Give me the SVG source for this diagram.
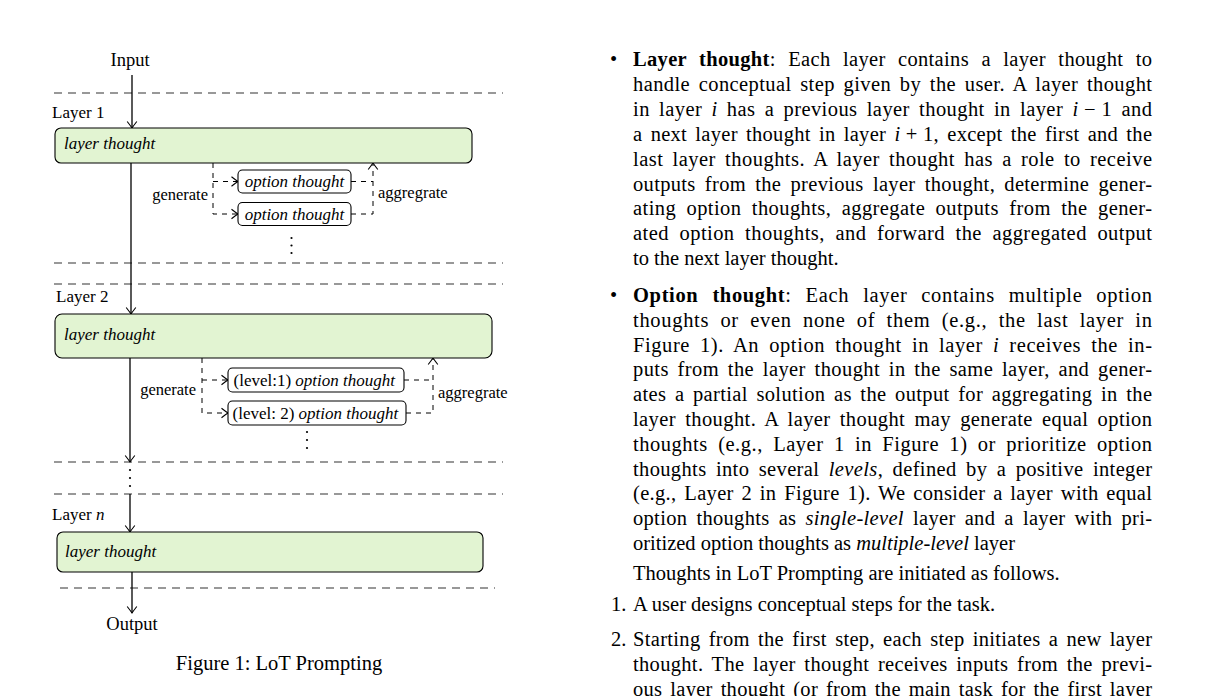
<svg xmlns="http://www.w3.org/2000/svg" width="1211" height="696" viewBox="0 0 1211 696">
<defs>
<marker id="arr" markerUnits="userSpaceOnUse" viewBox="-8 -6 10 12" refX="0" refY="0" markerWidth="10" markerHeight="12" orient="auto">
<path d="M-6.5,-4.8 Q-2,-1.3 0,0 Q-2,1.3 -6.5,4.8" fill="none" stroke="#000" stroke-width="1.1" stroke-dasharray="none"/>
</marker>
<style>
text{font-family:"Liberation Serif","Times New Roman",serif;fill:#000}
.it{font-style:italic}
.b{font-weight:bold}
.m{word-spacing:0}
.body{font-size:20.5px}
.lbl{font-size:17px}
.sm{font-size:16.5px}
.io{font-size:18.5px}
.box{fill:#e2f4d2;stroke:#000;stroke-width:1.1}
.opt{fill:#fff;stroke:#000;stroke-width:1.1}
.div{stroke:#333;stroke-width:1.2;stroke-dasharray:8 6;fill:none}
.solid{stroke:#000;stroke-width:1.3;fill:none}
.dash{stroke:#000;stroke-width:1;stroke-dasharray:5 5;fill:none}
.dot{fill:#000}
</style>
</defs>
<rect width="1211" height="696" fill="#fff"/>

<g id="dividers">
<line class="div" x1="54" y1="93" x2="503" y2="93"/>
<line class="div" x1="54" y1="263" x2="503" y2="263"/>
<line class="div" x1="54" y1="284" x2="503" y2="284"/>
<line class="div" x1="54" y1="462" x2="503" y2="462"/>
<line class="div" x1="54" y1="494" x2="503" y2="494"/>
<line class="div" x1="60" y1="588" x2="495" y2="588"/>
</g>

<g id="connectors">
<path class="solid" d="M132,75 V128" marker-end="url(#arr)"/>
<path class="solid" d="M131,163 V314" marker-end="url(#arr)"/>
<path class="solid" d="M130,358 V462" marker-end="url(#arr)"/>
<path class="solid" d="M130,494 V532" marker-end="url(#arr)"/>
<path class="solid" d="M132,572 V613" marker-end="url(#arr)"/>
<path class="dash" d="M213,163 V214 H238" marker-end="url(#arr)"/>
<path class="dash" d="M213,181.5 H238" marker-end="url(#arr)"/>
<path class="dash" d="M351,214 H373 V163" marker-end="url(#arr)"/>
<path class="dash" d="M351,181.5 H373"/>
<path class="dash" d="M202,358 V413 H228" marker-end="url(#arr)"/>
<path class="dash" d="M202,380 H228" marker-end="url(#arr)"/>
<path class="dash" d="M406,413 H433 V358" marker-end="url(#arr)"/>
<path class="dash" d="M404,380 H433"/>
</g>

<g id="input"><text class="io" x="130" y="66" text-anchor="middle">Input</text></g>

<g id="layer1">
<text class="lbl" x="52" y="118">Layer 1</text>
<rect class="box" x="55" y="128" width="417" height="35" rx="6"/>
<text class="lbl it" x="64" y="149">layer thought</text>
</g>
<g id="opt1a">
<rect class="opt" x="238" y="170" width="113" height="23" rx="4.5"/>
<text class="lbl it" x="294.5" y="187" text-anchor="middle">option thought</text>
</g>
<g id="opt1b">
<rect class="opt" x="238" y="202.5" width="113" height="23" rx="4.5"/>
<text class="lbl it" x="294.5" y="219.5" text-anchor="middle">option thought</text>
</g>
<g id="labels1">
<text class="sm" x="208" y="200" text-anchor="end">generate</text>
<text class="sm" x="378" y="198">aggregrate</text>
<circle class="dot" cx="291.5" cy="238" r="1.1"/>
<circle class="dot" cx="291.5" cy="245.5" r="1.1"/>
<circle class="dot" cx="291.5" cy="253" r="1.1"/>
</g>

<g id="layer2">
<text class="lbl" x="56" y="302">Layer 2</text>
<rect class="box" x="55" y="314" width="437" height="44" rx="7"/>
<text class="lbl it" x="64" y="340">layer thought</text>
</g>
<g id="opt2a">
<rect class="opt" x="228" y="368" width="176" height="24" rx="4.5"/>
<text class="lbl" x="233.5" y="386">(level:1) <tspan class="it">option thought</tspan></text>
</g>
<g id="opt2b">
<rect class="opt" x="228" y="401" width="178" height="24" rx="4.5"/>
<text class="lbl" x="232.5" y="419">(level: 2) <tspan class="it">option thought</tspan></text>
</g>
<g id="labels2">
<text class="sm" x="196" y="395" text-anchor="end">generate</text>
<text class="sm" x="438" y="398">aggregrate</text>
<circle class="dot" cx="307" cy="432" r="1.1"/>
<circle class="dot" cx="307" cy="440" r="1.1"/>
<circle class="dot" cx="307" cy="448" r="1.1"/>
<circle class="dot" cx="130" cy="470" r="1.1"/>
<circle class="dot" cx="130" cy="478" r="1.1"/>
<circle class="dot" cx="130" cy="486" r="1.1"/>
</g>

<g id="layern">
<text class="lbl" x="52" y="520">Layer <tspan class="it">n</tspan></text>
<rect class="box" x="57" y="532" width="426" height="40" rx="6"/>
<text class="lbl it" x="65" y="557">layer thought</text>
</g>

<g id="output"><text class="io" x="132" y="630" text-anchor="middle">Output</text></g>

<g id="caption"><text class="body" x="279" y="670" text-anchor="middle">Figure 1: LoT Prompting</text></g>

<g id="column">
<text class="body" x="610" y="66">•</text>
<text class="body" x="633" y="66" textLength="519" lengthAdjust="spacing" style="word-spacing:7px"><tspan class="b">Layer thought</tspan>: Each layer contains a layer thought to</text>
<text class="body" x="633" y="90.9" textLength="519" lengthAdjust="spacing" style="word-spacing:3.2px">handle conceptual step given by the user. A layer thought</text>
<text class="body" x="633" y="115.8" textLength="519" lengthAdjust="spacing" style="word-spacing:3.7px">in layer <tspan class="it">i</tspan> has a previous layer thought in layer <tspan class="it">i</tspan><tspan class="m"> − 1</tspan> and</text>
<text class="body" x="633" y="140.7" textLength="519" lengthAdjust="spacing" style="word-spacing:2.8px">a next layer thought in layer <tspan class="it">i</tspan><tspan class="m"> + 1</tspan>, except the first and the</text>
<text class="body" x="633" y="165.6" textLength="519" lengthAdjust="spacing" style="word-spacing:3.6px">last layer thoughts. A layer thought has a role to receive</text>
<text class="body" x="633" y="190.5" textLength="519" lengthAdjust="spacing" style="word-spacing:3.8px">outputs from the previous layer thought, determine gener-</text>
<text class="body" x="633" y="215.4" textLength="519" lengthAdjust="spacing" style="word-spacing:4.9px">ating option thoughts, aggregate outputs from the gener-</text>
<text class="body" x="633" y="240.3" textLength="519" lengthAdjust="spacing" style="word-spacing:5px">ated option thoughts, and forward the aggregated output</text>
<text class="body" x="633" y="265.2">to the next layer thought.</text>

<text class="body" x="610" y="302">•</text>
<text class="body" x="633" y="302" textLength="519" lengthAdjust="spacing" style="word-spacing:8.2px"><tspan class="b">Option thought</tspan>: Each layer contains multiple option</text>
<text class="body" x="633" y="326.8" textLength="519" lengthAdjust="spacing" style="word-spacing:5.5px">thoughts or even none of them (e.g., the last layer in</text>
<text class="body" x="633" y="351.6" textLength="519" lengthAdjust="spacing" style="word-spacing:4.4px">Figure 1). An option thought in layer <tspan class="it">i</tspan> receives the in-</text>
<text class="body" x="633" y="376.4" textLength="519" lengthAdjust="spacing" style="word-spacing:3.2px">puts from the layer thought in the same layer, and gener-</text>
<text class="body" x="633" y="401.2" textLength="519" lengthAdjust="spacing" style="word-spacing:3.1px">ates a partial solution as the output for aggregating in the</text>
<text class="body" x="633" y="426" textLength="519" lengthAdjust="spacing" style="word-spacing:3.7px">layer thought. A layer thought may generate equal option</text>
<text class="body" x="633" y="450.8" textLength="519" lengthAdjust="spacing" style="word-spacing:4.7px">thoughts (e.g., Layer 1 in Figure 1) or prioritize option</text>
<text class="body" x="633" y="475.6" textLength="519" lengthAdjust="spacing" style="word-spacing:4px">thoughts into several <tspan class="it">levels</tspan>, defined by a positive integer</text>
<text class="body" x="633" y="500.4" textLength="519" lengthAdjust="spacing" style="word-spacing:2.3px">(e.g., Layer 2 in Figure 1). We consider a layer with equal</text>
<text class="body" x="633" y="525.2" textLength="519" lengthAdjust="spacing" style="word-spacing:3.7px">option thoughts as <tspan class="it">single-level</tspan> layer and a layer with pri-</text>
<text class="body" x="633" y="550">oritized option thoughts as <tspan class="it">multiple-level</tspan> layer</text>

<text class="body" x="633" y="580">Thoughts in LoT Prompting are initiated as follows.</text>

<text class="body" x="611" y="611">1.</text>
<text class="body" x="633" y="611">A user designs conceptual steps for the task.</text>
<text class="body" x="611" y="646">2.</text>
<text class="body" x="633" y="646" textLength="519" lengthAdjust="spacing" style="word-spacing:2.8px">Starting from the first step, each step initiates a new layer</text>
<text class="body" x="633" y="670.8" textLength="519" lengthAdjust="spacing" style="word-spacing:3.2px">thought. The layer thought receives inputs from the previ-</text>
<text class="body" x="633" y="695.6" textLength="519" lengthAdjust="spacing" style="word-spacing:2.5px">ous layer thought (or from the main task for the first layer</text>
</g>
</svg>
